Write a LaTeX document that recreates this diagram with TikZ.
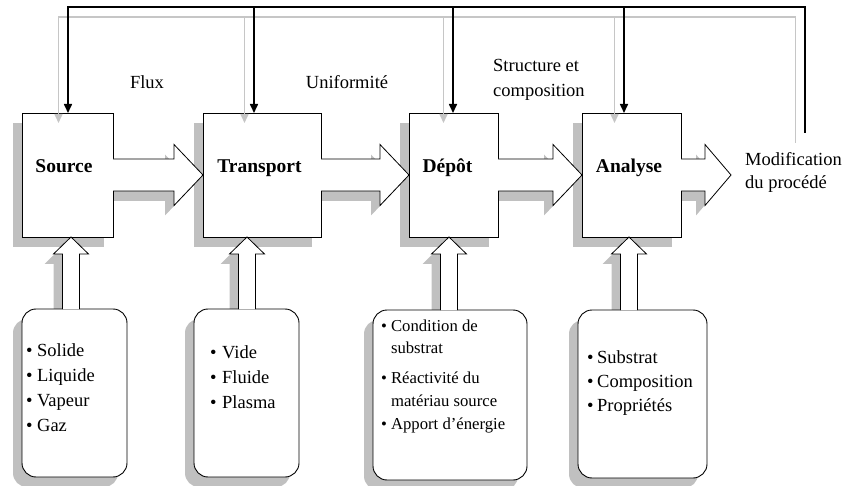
\documentclass[tikz,border=0pt]{standalone}
\usepackage{fontspec}
\setmainfont{Liberation Serif}
\usetikzlibrary{arrows.meta,calc}
\pgfdeclarelayer{bg}
\pgfsetlayers{bg,main}
\definecolor{shd}{HTML}{C0C0C0}
\definecolor{shl}{HTML}{C6C6C6}
% block arrow to the right: #1 start (box east), #2 tip, #3 head length, #4 fill style
\newcommand\barrowfill[4]{\fill[#4] let \p1=(#1),\p2=(#2) in
  (\x1-1pt,\y1+16pt) -- (\x2-#3,\y1+16pt) -- (\x2-#3,\y1+30.5pt) -- (\x2,\y1)
  -- (\x2-#3,\y1-30.5pt) -- (\x2-#3,\y1-16pt) -- (\x1-1pt,\y1-16pt) -- cycle;}
\newcommand\barrowdraw[3]{\draw[arrowline] let \p1=(#1),\p2=(#2) in
  (\x1,\y1+16pt) -- (\x2-#3,\y1+16pt) -- (\x2-#3,\y1+30.5pt) -- (\x2,\y1)
  -- (\x2-#3,\y1-30.5pt) -- (\x2-#3,\y1-16pt) -- (\x1,\y1-16pt);}
% block arrow upward: #1 start (list box north), #2 target (box south), #3 fill style
\newcommand\uarrowfill[3]{\fill[#3] let \p1=(#1),\p2=(#2) in
  (\x1-8.5pt,\y1) -- (\x1-8.5pt,\y2-17pt) -- (\x1-17.5pt,\y2-17pt) -- (\x1,\y2)
  -- (\x1+17.5pt,\y2-17pt) -- (\x1+8.5pt,\y2-17pt) -- (\x1+8.5pt,\y1) -- cycle;}
\newcommand\uarrowdraw[2]{\draw[arrowline] let \p1=(#1),\p2=(#2) in
  (\x1-8.5pt,\y1) -- (\x1-8.5pt,\y2-17pt) -- (\x1-17.5pt,\y2-17pt) -- (\x1,\y2)
  -- (\x1+17.5pt,\y2-17pt) -- (\x1+8.5pt,\y2-17pt) -- (\x1+8.5pt,\y1);}
\begin{document}
\begin{tikzpicture}[x=1pt,y=-1pt,
  mainbox/.style={draw,line width=0.8pt,fill=white,minimum width=#1,minimum height=124pt,inner sep=0pt,outer sep=0pt},
  listbox/.style 2 args={draw,line width=0.9pt,fill=white,rounded corners=14pt,minimum width=#1,minimum height=#2,inner sep=0pt,outer sep=0pt},
  boxlabel/.style={font=\fontsize{19.5pt}{24pt}\selectfont\bfseries,inner sep=0pt,anchor=base},
  lab/.style={font=\fontsize{18.5pt}{25pt}\selectfont,inner sep=0pt,anchor=base},
  smalllab/.style={font=\fontsize{16.7pt}{22.5pt}\selectfont,inner sep=0pt,anchor=base west},
  arrowline/.style={line width=0.8pt,line join=miter},
  fb/.style={line width=1.6pt,line join=miter,-{Triangle[length=9pt,width=8pt]}},
  fbplain/.style={line width=1.6pt,line join=miter},
]
\useasboundingbox (0,0) rectangle (843,486);

% main boxes
\node[mainbox=91pt]  (src) at (67.5,175) {};
\node[mainbox=118pt] (trn) at (262,175) {};
\node[mainbox=89pt]  (dep) at (453.5,175) {};
\node[mainbox=99pt]  (ana) at (631.5,175) {};

% list boxes
\node[listbox={105pt}{168pt}] (b1) at (74.5,393) {};
\node[listbox={105pt}{168pt}] (b2) at (246.5,393) {};
\node[listbox={154pt}{170pt}] (b3) at (450,395) {};
\node[listbox={129pt}{168pt}] (b4) at (642.5,394) {};

\coordinate (outtip) at (731,175);

% shadows
\begin{pgfonlayer}{bg}
  \foreach \n in {src,trn,dep,ana}
    \fill[shd] ([shift={(-9pt,-10pt)}]\n.south west) rectangle ([shift={(-9pt,-10pt)}]\n.north east);
  \foreach \n in {b1,b2,b3,b4}
    \fill[shd,rounded corners=14pt] ([shift={(-9pt,-10pt)}]\n.south west) rectangle ([shift={(-9pt,-10pt)}]\n.north east);
  \begin{scope}[transform canvas={shift={(-9pt,-10pt)}}]
    \barrowfill{src.east}{trn.west}{29pt}{shd}
    \barrowfill{trn.east}{dep.west}{29pt}{shd}
    \barrowfill{dep.east}{ana.west}{29pt}{shd}
    \barrowfill{ana.east}{outtip}{26pt}{shd}
    \uarrowfill{[xshift=-3.5pt]b1.north}{src.south}{shd}
    \uarrowfill{[xshift=0.5pt]b2.north}{trn.south}{shd}
    \uarrowfill{[xshift=-1pt]b3.north}{dep.south}{shd}
    \uarrowfill{[xshift=-13.5pt]b4.north}{ana.south}{shd}
  \end{scope}
\end{pgfonlayer}

% block arrows
\barrowfill{src.east}{trn.west}{29pt}{white}
\barrowdraw{src.east}{trn.west}{29pt}
\barrowfill{trn.east}{dep.west}{29pt}{white}
\barrowdraw{trn.east}{dep.west}{29pt}
\barrowfill{dep.east}{ana.west}{29pt}{white}
\barrowdraw{dep.east}{ana.west}{29pt}
\barrowfill{ana.east}{outtip}{26pt}{white}
\barrowdraw{ana.east}{outtip}{26pt}

\uarrowfill{[xshift=-3.5pt]b1.north}{src.south}{white}
\uarrowdraw{[xshift=-3.5pt]b1.north}{src.south}
\uarrowfill{[xshift=0.5pt]b2.north}{trn.south}{white}
\uarrowdraw{[xshift=0.5pt]b2.north}{trn.south}
\uarrowfill{[xshift=-1pt]b3.north}{dep.south}{white}
\uarrowdraw{[xshift=-1pt]b3.north}{dep.south}
\uarrowfill{[xshift=-13.5pt]b4.north}{ana.south}{white}
\uarrowdraw{[xshift=-13.5pt]b4.north}{ana.south}

% box labels
\node[boxlabel] (srcL) at ([xshift=-3.5pt,yshift=2.5pt]src.center) {Source};
\node[boxlabel] (trnL) at ([xshift=-2.5pt,yshift=2.5pt]trn.center) {Transport};
\node[boxlabel] (depL) at ([xshift=-6pt,yshift=2.5pt]dep.center) {Dépôt};
\node[boxlabel] (anaL) at ([xshift=-2.5pt,yshift=2.5pt]ana.center) {Analyse};

% other labels
\node[lab] (flux) at (147,89) {Flux};
\node[lab] (unif) at (347,89) {Uniformité};
\node[lab,anchor=base west] (struct) at (493,72) {\begin{tabular}[t]{@{}l@{}}Structure et\\ composition\end{tabular}};
\node[lab,anchor=base west,font=\fontsize{18.5pt}{23pt}\selectfont] (modif) at (745,166) {\begin{tabular}[t]{@{}l@{}}Modification\\ du procédé\end{tabular}};

% list texts
\node[lab,anchor=base west] (l1) at (26,356) {\begin{tabular}[t]{@{}l@{\hspace{4.5pt}}l@{}}\textbullet & Solide\\ \textbullet & Liquide\\ \textbullet & Vapeur\\ \textbullet & Gaz\end{tabular}};
\node[lab,anchor=base west] (l2) at (210,358) {\begin{tabular}[t]{@{}l@{\hspace{5.5pt}}l@{}}\textbullet & Vide\\ \textbullet & Fluide\\ \textbullet & Plasma\end{tabular}};
\node[smalllab] (l3) at (381,331) {\begin{tabular}[t]{@{}l@{\hspace{4pt}}l@{}}\textbullet & Condition de\\ & substrat\\[7.5pt] \textbullet & Réactivité du\\ & matériau source\\[0.5pt] \textbullet & Apport d’énergie\end{tabular}};
\node[lab,anchor=base west,font=\fontsize{18.5pt}{24pt}\selectfont] (l4) at (587,363) {\begin{tabular}[t]{@{}l@{\hspace{3.5pt}}l@{}}\textbullet & Substrat\\ \textbullet & Composition\\ \textbullet & Propriétés\end{tabular}};

% feedback connectors
\coordinate (fbend) at (805,133);
\coordinate (fbtop) at (805,7);
\coordinate (tS) at ([xshift=0.5pt]src.north);
\coordinate (tT) at ([xshift=-8pt]trn.north);
\coordinate (tD) at ([xshift=-0.5pt]dep.north);
\coordinate (tA) at ([xshift=-7.5pt]ana.north);

\begin{scope}[transform canvas={shift={(-9.5pt,-10pt)}}]
  \draw[fb,shl] (fbend) -- (fbtop) -| (tS);
  \draw[fb,shl] (tT |- fbtop) -- (tT);
  \draw[fb,shl] (tD |- fbtop) -- (tD);
  \draw[fb,shl] (tA |- fbtop) -- (tA);
\end{scope}

\draw[fb] (fbend) -- (fbtop) -| (tS);
\draw[fb] (tT |- fbtop) -- (tT);
\draw[fb] (tD |- fbtop) -- (tD);
\draw[fb] (tA |- fbtop) -- (tA);
\end{tikzpicture}
\end{document}
